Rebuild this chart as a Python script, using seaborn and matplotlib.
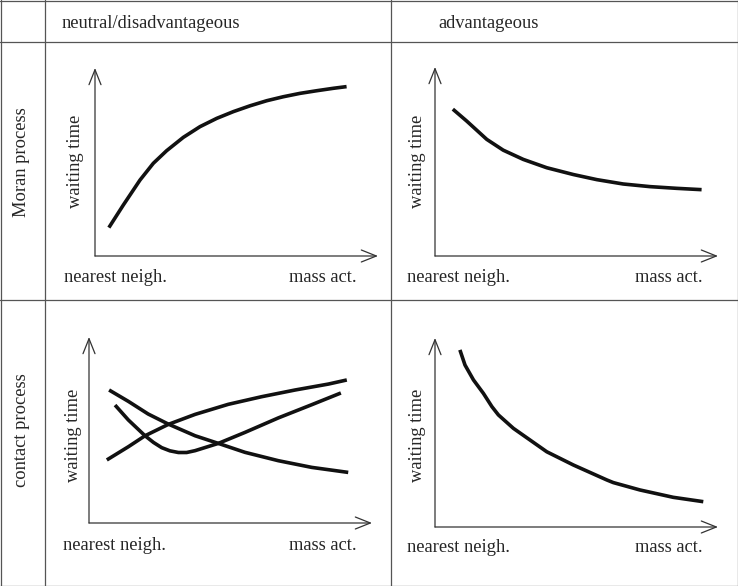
import matplotlib
matplotlib.use("Agg")
import matplotlib.pyplot as plt
import seaborn as sns
import pandas as pd

sns.set_theme(style="white")
plt.rcParams['font.family'] = ['Liberation Serif', 'DejaVu Serif']

# column / row headers
col_labels = ["neutral/disadvantageous", "advantageous"]
row_labels = ["Moran process", "contact process"]
x_left, x_right = "nearest neigh.", "mass act."
y_label = "waiting time"

# curves, x = position along the axis (0-100), y = waiting time (0-100)
moran_neutral_x = [4.9, 10.0, 15.9, 20.6, 25.3, 31.2, 37.1, 43.0, 48.9, 54.8, 60.7, 66.5, 72.4, 78.3, 84.2, 88.9]
moran_neutral_y = [15.1, 27.1, 40.4, 49.3, 56.0, 63.1, 68.8, 73.2, 76.8, 79.9, 82.6, 84.7, 86.5, 87.9, 89.2, 90.1]

moran_adv_x = [6.3, 11.2, 18.3, 24.1, 31.2, 39.5, 48.9, 57.2, 66.5, 76.0, 85.4, 94.2]
moran_adv_y = [77.7, 71.4, 61.7, 56.0, 51.1, 46.7, 43.1, 40.4, 38.1, 36.7, 35.8, 35.1]

contact_a_x = [6.3, 13.9, 19.8, 28.0, 37.5, 49.2, 61.0, 72.8, 84.6, 91.1]
contact_a_y = [33.9, 41.0, 46.9, 53.0, 58.4, 63.8, 67.9, 71.5, 74.7, 76.9]
contact_b_x = [7.1, 13.9, 20.9, 28.0, 37.5, 45.7, 55.1, 66.9, 78.7, 91.6]
contact_b_y = [71.5, 65.4, 58.6, 53.2, 46.9, 42.8, 38.0, 33.5, 29.9, 27.2]
contact_c_x = [9.2, 13.9, 19.8, 22.8, 25.7, 28.6, 31.6, 34.5, 37.5, 45.7, 55.1, 66.9, 78.7, 89.0]
contact_c_y = [63.4, 55.4, 46.9, 43.3, 40.5, 38.8, 37.9, 37.9, 38.9, 42.8, 48.7, 56.5, 63.6, 69.9]

contact_adv_x = [8.8, 10.6, 13.6, 17.1, 20.1, 22.4, 27.7, 33.6, 39.5, 48.9, 60.7, 63.0, 72.4, 84.2, 94.8]
contact_adv_y = [93.7, 85.7, 77.8, 70.7, 63.7, 59.3, 52.2, 46.0, 39.8, 32.8, 24.9, 23.5, 19.6, 15.7, 13.4]

W, H = 738, 586
fig = plt.figure(figsize=(W / 100, H / 100), dpi=100)

# background axes in pixel coords for the table
bg = fig.add_axes([0, 0, 1, 1])
bg.set_xlim(0, W)
bg.set_ylim(H, 0)
bg.axis("off")
gc = "#555555"
for x in [0.5, 45, 391, W - 0.5]:
    bg.plot([x, x], [0, H], color=gc, lw=0.9)
for y in [0.5, 42, 300, H - 0.5]:
    bg.plot([0, W], [y, y], color=gc, lw=0.9)

fs = 13.3
bg.text(62, 22, col_labels[0], fontsize=fs, va="center_baseline", ha="left")
bg.text(438, 22, col_labels[1], fontsize=fs, va="center_baseline", ha="left")
bg.text(22, 162, row_labels[0], fontsize=fs, va="center", ha="center", rotation=90)
bg.text(22, 430, row_labels[1], fontsize=fs, va="center", ha="center", rotation=90)

# panel layout: origin (px), x length, y length, label positions
panels = [
    dict(o=(95, 256), w=283, h=188, yl=(75, 161), xl=(64, 277), xr=(357, 277),
         curves=[(moran_neutral_x, moran_neutral_y)]),
    dict(o=(435, 256), w=283, h=189, yl=(418, 161), xl=(407, 277), xr=(703, 277),
         curves=[(moran_adv_x, moran_adv_y)]),
    dict(o=(89, 523), w=283, h=186, yl=(74, 435), xl=(63, 546), xr=(357, 546),
         curves=[(contact_a_x, contact_a_y), (contact_b_x, contact_b_y), (contact_c_x, contact_c_y)]),
    dict(o=(435, 527), w=283, h=189, yl=(417, 435), xl=(407, 547), xr=(703, 547),
         curves=[(contact_adv_x, contact_adv_y)]),
]

for p in panels:
    ox, oy = p["o"]
    ax = fig.add_axes([ox / W, (H - oy) / H, p["w"] / W, p["h"] / H])
    ax.patch.set_alpha(0)
    ax.set_xlim(0, 100)
    ax.set_ylim(0, 100)
    ax.axis("off")
    arr = dict(arrowstyle="->, head_length=0.6, head_width=0.24", lw=0.9,
               color="#333333", mutation_scale=18, shrinkA=0, shrinkB=0)
    ax.annotate("", xy=(100, 0), xytext=(0, 0), arrowprops=arr, annotation_clip=False)
    ax.annotate("", xy=(0, 100), xytext=(0, 0), arrowprops=arr, annotation_clip=False)
    for cx, cy in p["curves"]:
        df = pd.DataFrame({"x": cx, "y": cy})
        sns.lineplot(data=df, x="x", y="y", ax=ax, color="#111111", lw=2.6,
                     sort=False, estimator=None, solid_capstyle="butt",
                     solid_joinstyle="round", clip_on=False)
    bg.text(*p["yl"], y_label, fontsize=fs, rotation=90, va="center", ha="center")
    bg.text(*p["xl"], x_left, fontsize=fs, va="center", ha="left")
    bg.text(*p["xr"], x_right, fontsize=fs, va="center", ha="right")

bg.set_zorder(0)
fig.savefig("out.png", dpi=100)
